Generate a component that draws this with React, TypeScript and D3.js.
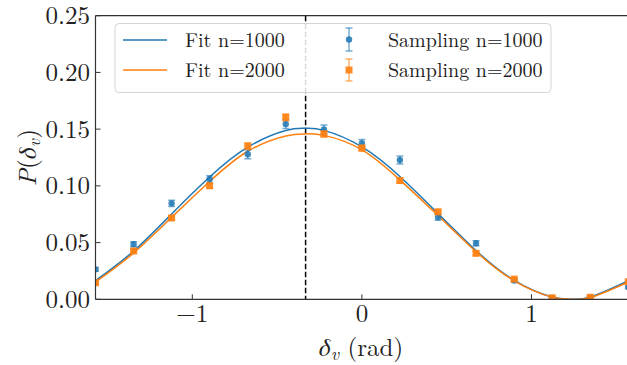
import React from "react";
import * as d3 from "d3";

const W = 627, H = 365;
const sampleX = [-1.571, -1.346, -1.122, -0.898, -0.673, -0.449, -0.224, 0, 0.224, 0.449, 0.673, 0.898, 1.122, 1.346, 1.571];
const sampBlue = [0.0264, 0.0486, 0.0846, 0.106, 0.1278, 0.1545, 0.1497, 0.1377, 0.1228, 0.0724, 0.0494, 0.0165, 0.0012, 0.0016, 0.0106];
const errBlue = [0.0016, 0.0022, 0.0028, 0.003, 0.0038, 0.004, 0.004, 0.0032, 0.0036, 0.0027, 0.0022, 0.0013, 0.0005, 0.0005, 0.0011];
const sampOrange = [0.0146, 0.0426, 0.0717, 0.1001, 0.1351, 0.1604, 0.1457, 0.1333, 0.1047, 0.0771, 0.0405, 0.0178, 0.0013, 0.0018, 0.0155];
const errOrange = [0.0011, 0.0016, 0.002, 0.0022, 0.0026, 0.0029, 0.0027, 0.0026, 0.0023, 0.002, 0.0016, 0.001, 0.0004, 0.0004, 0.0011];

const fitX = [-1.571, -1.346, -1.122, -0.898, -0.673, -0.449, -0.335, -0.224, 0, 0.224, 0.449, 0.673, 0.898, 1.122, 1.236, 1.346, 1.571];
const fitBlue = [0.0164, 0.0425, 0.0752, 0.1078, 0.1341, 0.1488, 0.1507, 0.1489, 0.1344, 0.1083, 0.0756, 0.043, 0.0167, 0.002, 0.0001, 0.0019, 0.0164];
const fitOrange = [0.0152, 0.0408, 0.0722, 0.1038, 0.1305, 0.1440, 0.1458, 0.1445, 0.1318, 0.1053, 0.0738, 0.042, 0.0163, 0.0019, 0.0, 0.0014, 0.0152];

const xTicks = [-1, 0, 1];
const yTicks = [0, 0.05, 0.1, 0.15, 0.2, 0.25];
const vline = -0.332;
const legendLabels = ["Fit n=1000", "Fit n=2000", "Sampling n=1000", "Sampling n=2000"];

const BLUE = "#1f77b4", ORANGE = "#ff7f0e";
const FONT = '"Latin Modern Roman", "Liberation Serif", "FreeSerif", serif';
const GREEK = '"FreeSerif", "Liberation Serif", serif';

export default function App() {
  const left = 95.5, right = 628.3, top = 15.7, bottom = 299.3;
  const x = d3.scaleLinear().domain([-Math.PI / 2, Math.PI / 2]).range([left, right]);
  const y = d3.scaleLinear().domain([0, 0.25]).range([bottom, top]);
  const line = d3.line<[number, number]>().x(d => x(d[0])).y(d => y(d[1])).curve(d3.curveNatural);
  const blueLine = line(fitX.map((v, i) => [v, fitBlue[i]]) as [number, number][]) || "";
  const orangeLine = line(fitX.map((v, i) => [v, fitOrange[i]]) as [number, number][]) || "";
  const cap = 3.5;
  const sq = 7;
  const ts: React.CSSProperties = { fontFamily: FONT };
  const gs: React.CSSProperties = { fontFamily: GREEK, fontStyle: "italic" };
  const it: React.CSSProperties = { fontFamily: FONT, fontStyle: "italic" };

  return (
    <svg width={W} height={H} style={{ position: "absolute", left: 0, top: 0, background: "#fff" }}>
      <defs>
        <clipPath id="plotclip">
          <rect x={left} y={top} width={right - left} height={bottom - top} />
        </clipPath>
      </defs>
      <rect x={0} y={0} width={W} height={H} fill="#fff" />
      <g clipPath="url(#plotclip)">
        <line x1={x(vline)} x2={x(vline)} y1={top} y2={bottom} stroke="#000" strokeWidth={1.5} strokeDasharray="5.5,2.5" />
        <path d={blueLine} fill="none" stroke={BLUE} strokeWidth={1.5} />
        <path d={orangeLine} fill="none" stroke={ORANGE} strokeWidth={1.5} />
        {sampleX.map((v, i) => (
          <g key={"b" + i} stroke={BLUE} strokeOpacity={0.6} strokeWidth={1.5}>
            <line x1={x(v)} x2={x(v)} y1={y(sampBlue[i] - errBlue[i])} y2={y(sampBlue[i] + errBlue[i])} />
            <line x1={x(v) - cap} x2={x(v) + cap} y1={y(sampBlue[i] - errBlue[i])} y2={y(sampBlue[i] - errBlue[i])} />
            <line x1={x(v) - cap} x2={x(v) + cap} y1={y(sampBlue[i] + errBlue[i])} y2={y(sampBlue[i] + errBlue[i])} />
            <circle cx={x(v)} cy={y(sampBlue[i])} r={3.2} fill={BLUE} fillOpacity={0.85} stroke="none" />
          </g>
        ))}
        {sampleX.map((v, i) => (
          <g key={"o" + i} stroke={ORANGE} strokeOpacity={0.6} strokeWidth={1.5}>
            <line x1={x(v)} x2={x(v)} y1={y(sampOrange[i] - errOrange[i])} y2={y(sampOrange[i] + errOrange[i])} />
            <line x1={x(v) - cap} x2={x(v) + cap} y1={y(sampOrange[i] - errOrange[i])} y2={y(sampOrange[i] - errOrange[i])} />
            <line x1={x(v) - cap} x2={x(v) + cap} y1={y(sampOrange[i] + errOrange[i])} y2={y(sampOrange[i] + errOrange[i])} />
            <rect x={x(v) - sq / 2} y={y(sampOrange[i]) - sq / 2} width={sq} height={sq} fill={ORANGE} fillOpacity={0.9} stroke="none" />
          </g>
        ))}
      </g>
      {/* spines */}
      <line x1={left} x2={left} y1={top} y2={bottom} stroke="#333" strokeWidth={1.2} />
      <line x1={left} x2={right} y1={bottom} y2={bottom} stroke="#333" strokeWidth={1.2} />
      <line x1={left} x2={right} y1={top} y2={top} stroke="#333" strokeWidth={1.2} />
      <line x1={right} x2={right} y1={top} y2={bottom} stroke="#333" strokeWidth={1.2} />
      {/* x ticks */}
      {xTicks.map(t => (
        <g key={"xt" + t}>
          <line x1={x(t)} x2={x(t)} y1={bottom} y2={bottom - 5} stroke="#333" strokeWidth={1} />
          <text x={x(t)} y={322} textAnchor="middle" fontSize={25} fill="#222" style={ts}>{t < 0 ? "\u2212" + Math.abs(t) : String(t)}</text>
        </g>
      ))}
      {/* y ticks */}
      {yTicks.map(t => (
        <g key={"yt" + t}>
          <line x1={left} x2={left + 5} y1={y(t)} y2={y(t)} stroke="#333" strokeWidth={1} />
          <text x={90} y={y(t) + 8.5} textAnchor="end" fontSize={25} fill="#222" style={ts}>{d3.format(".2f")(t)}</text>
        </g>
      ))}
      {/* axis labels */}
      <text x={361} y={356} textAnchor="middle" fontSize={25} fill="#222" style={ts}>
        <tspan style={gs}>δ</tspan>
        <tspan style={it} fontSize={17.5} dy={4}>v</tspan>
        <tspan dy={-4}>{" (rad)"}</tspan>
      </text>
      <text transform={`translate(36,${(top + bottom) / 2}) rotate(-90)`} textAnchor="middle" fontSize={25} fill="#222" style={ts}>
        <tspan style={it}>P</tspan>
        <tspan>(</tspan>
        <tspan style={gs}>δ</tspan>
        <tspan style={it} fontSize={17.5} dy={4}>v</tspan>
        <tspan dy={-4}>)</tspan>
      </text>
      {/* legend */}
      <rect x={115} y={23.5} width={436} height={69} rx={4} fill="#fff" fillOpacity={0.85} stroke="#d5d5d5" strokeWidth={1} />
      <line x1={123} x2={167} y1={40} y2={40} stroke={BLUE} strokeWidth={1.5} />
      <line x1={123} x2={167} y1={70} y2={70} stroke={ORANGE} strokeWidth={1.5} />
      <text x={185} y={46.5} fontSize={20} fill="#222" style={ts}>{legendLabels[0]}</text>
      <text x={185} y={76.5} fontSize={20} fill="#222" style={ts}>{legendLabels[1]}</text>
      <g stroke={BLUE} strokeOpacity={0.6} strokeWidth={1.5}>
        <line x1={349} x2={349} y1={28} y2={51} />
        <line x1={345.5} x2={352.5} y1={28} y2={28} />
        <line x1={345.5} x2={352.5} y1={51} y2={51} />
        <circle cx={349} cy={39.5} r={3.2} fill={BLUE} fillOpacity={0.85} stroke="none" />
      </g>
      <g stroke={ORANGE} strokeOpacity={0.6} strokeWidth={1.5}>
        <line x1={349} x2={349} y1={59} y2={81} />
        <line x1={345.5} x2={352.5} y1={59} y2={59} />
        <line x1={345.5} x2={352.5} y1={81} y2={81} />
        <rect x={349 - sq / 2} y={70 - sq / 2} width={sq} height={sq} fill={ORANGE} fillOpacity={0.9} stroke="none" />
      </g>
      <text x={388} y={46.5} fontSize={20} fill="#222" style={ts}>{legendLabels[2]}</text>
      <text x={388} y={76.5} fontSize={20} fill="#222" style={ts}>{legendLabels[3]}</text>
    </svg>
  );
}
